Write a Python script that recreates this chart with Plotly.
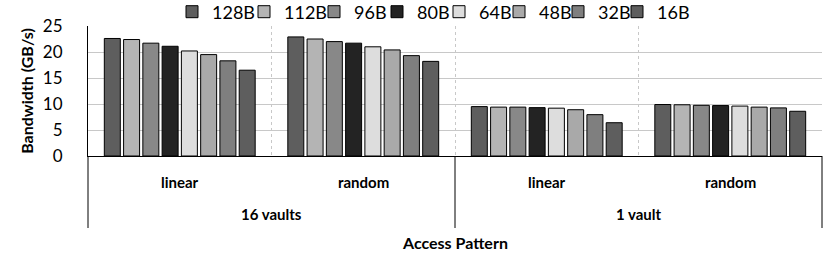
import plotly.graph_objects as go

groups = ["16 vaults", "16 vaults", "1 vault", "1 vault"]
patterns = ["linear", "random", "linear", "random"]
group_labels = ["16 vaults", "1 vault"]
series = ["128B", "112B", "96B", "80B", "64B", "48B", "32B", "16B"]
colors = ["#5e5e5e", "#b4b4b4", "#888888", "#232323", "#dddddd", "#a9a9a9", "#7f7f7f", "#5e5e5e"]
values = {
    "128B": [22.6, 22.9, 9.5, 9.9],
    "112B": [22.4, 22.5, 9.4, 9.85],
    "96B":  [21.7, 22.0, 9.4, 9.75],
    "80B":  [21.1, 21.7, 9.3, 9.7],
    "64B":  [20.2, 21.0, 9.2, 9.6],
    "48B":  [19.5, 20.4, 8.9, 9.4],
    "32B":  [18.3, 19.3, 7.95, 9.25],
    "16B":  [16.5, 18.2, 6.4, 8.6],
}
yticks = [0, 5, 10, 15, 20, 25]

cats = [f"{g} {p}" for g, p in zip(groups, patterns)]

W, H = 830, 254
ML, MR, MT, MB = 88, 8, 26, 98
PH = H - MT - MB

# left edge (px) of each legend entry's text, as in the reference
legend_text_x = [212, 284, 354, 417, 479, 539, 598, 657]

FONT = "Lato"
fig = go.Figure()
for i, (s, c) in enumerate(zip(series, colors)):
    lg = "legend" if i == 0 else f"legend{i + 1}"
    fig.add_trace(go.Bar(
        name=s, x=cats, y=values[s], legend=lg, showlegend=True,
        marker=dict(color=c, line=dict(color="#000000", width=1)),
    ))
    fig.update_layout({lg: dict(
        orientation="h", x=(legend_text_x[i] - 40) / W, xref="container", xanchor="left",
        y=1 - 12 / H, yref="container", yanchor="middle",
        font=dict(size=18, family=FONT, color="#000"), itemwidth=30,
        bgcolor="rgba(0,0,0,0)", borderwidth=0,
    )})

annotations = []
for cat, p in zip(cats, patterns):
    annotations.append(dict(x=cat, xref="x", y=-26 / PH, yref="paper", text=f"<b>{p}</b>",
                            showarrow=False, font=dict(size=15, family=FONT, color="#000"),
                            xanchor="center", yanchor="middle"))
for i, g in enumerate(group_labels):
    annotations.append(dict(x=(i + 0.5) / len(group_labels), xref="paper", y=-58 / PH, yref="paper",
                            text=f"<b>{g}</b>", showarrow=False,
                            font=dict(size=15, family=FONT, color="#000"),
                            xanchor="center", yanchor="middle"))
annotations.append(dict(x=0.5, xref="paper", y=-87 / PH, yref="paper", text="<b>Access Pattern</b>",
                        showarrow=False, font=dict(size=16, family=FONT, color="#000"),
                        xanchor="center", yanchor="middle"))

shapes = []
for i in range(len(group_labels) + 1):
    shapes.append(dict(type="line", xref="paper", x0=i / len(group_labels), x1=i / len(group_labels),
                       yref="paper", y0=0, y1=-72 / PH, line=dict(color="#000", width=1)))

fig.update_layout(
    width=W, height=H, showlegend=True,
    margin=dict(l=ML, r=MR, t=MT, b=MB, autoexpand=False),
    paper_bgcolor="white", plot_bgcolor="white",
    barmode="group", bargap=0.16, bargroupgap=0.17,
    font=dict(family=FONT, color="#000000"),
    annotations=annotations, shapes=shapes,
)
fig.update_yaxes(
    range=[0, 25], tickvals=yticks, showgrid=True, gridcolor="#c8c8c8", gridwidth=1,
    showline=True, linecolor="#000000", linewidth=1, zeroline=False, automargin=False,
    tickfont=dict(size=17, family=FONT), ticks="outside", ticklen=21, tickcolor="rgba(0,0,0,0)",
    title=dict(text="<b>Bandwidth (GB/s)</b>", font=dict(size=16, family=FONT), standoff=5),
)
fig.update_xaxes(
    type="category", tickson="boundaries", showgrid=True, gridcolor="#c8c8c8",
    griddash="dot", showline=True, linecolor="#000000", linewidth=1,
    showticklabels=False, ticks="", automargin=False,
)
fig.write_html("out.html", config={"displayModeBar": False},
               post_script="document.body.style.margin='0';")
